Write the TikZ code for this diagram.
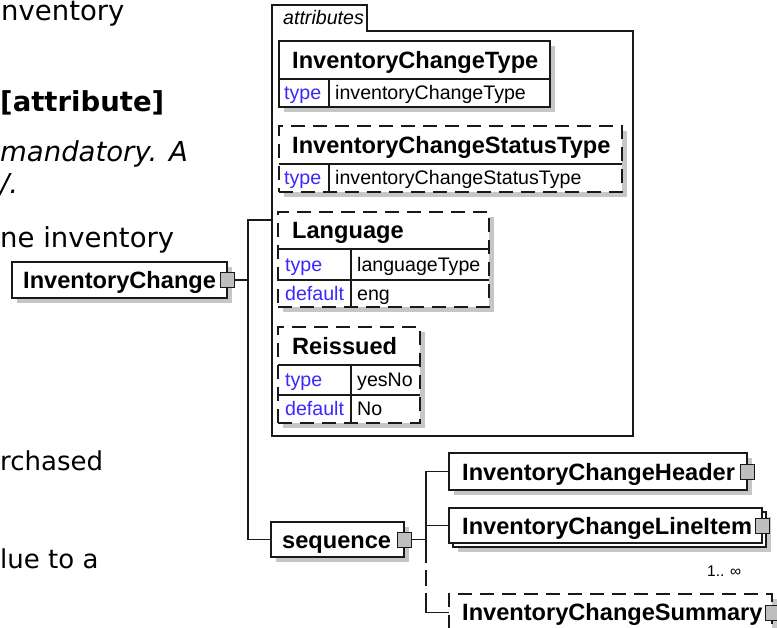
\documentclass[tikz,border=0pt]{standalone}
\usepackage{fontspec}
\setmainfont{DejaVu Sans}
\newfontfamily\xsdfont{Liberation Sans}
\usetikzlibrary{positioning,shadows}

\tikzset{
  elbox/.style={draw=boxline, fill=white, line width=1.2pt, inner sep=0pt, outer sep=0pt, anchor=north west},
  xsdbox/.style={elbox, drop shadow={shadow xshift=5pt, shadow yshift=-5pt, fill=shadowgray, opacity=1}},
  optbox/.style={xsdbox, dash pattern=on 14pt off 8pt},
  expander/.style={draw=boxline, fill=expgray, line width=1pt, minimum width=14pt, minimum height=15pt, inner sep=0pt, outer sep=0pt},
  elname/.style={font=\xsdfont\fontsize{23.6}{26}\bfseries, anchor=base west, inner sep=0pt},
  attkey/.style={font=\xsdfont\fontsize{19.6}{22}\selectfont, text=keyblue, anchor=base west, inner sep=0pt},
  attval/.style={attkey, text=black},
  doc/.style={font=\fontsize{27.5}{32}\selectfont, anchor=base west, inner sep=0pt},
  wire/.style={draw=boxline, line width=1.2pt},
}

\begin{document}
\begin{tikzpicture}[x=1pt, y=-1pt]
        \definecolor{boxline}{RGB}{25,25,25}
        \definecolor{shadowgray}{RGB}{198,198,198}
        \definecolor{expgray}{RGB}{190,190,190}
        \definecolor{keyblue}{RGB}{60,40,250}

        \clip (0,0) rectangle (777,628);

        % Documentation text (cut at the left edge)
        \node[doc] (docInv) at (1,21) {nventory};
        \node[doc, font=\fontsize{27.5}{32}\bfseries] (docAttr) at (0,112) {[attribute]};
        \node[doc, font=\fontsize{27.5}{32}\itshape] (docMand) at (0,162) {mandatory. A};
        \node[doc, font=\fontsize{27.5}{32}\itshape] (docEnd) at (0,194) {/.};
        \node[doc] (docNe) at (0,248) {ne inventory};
        \node[doc, font=\fontsize{26}{30}\selectfont] (docPurch) at (0,471) {rchased};
        \node[doc, font=\fontsize{26}{30}\selectfont] (docDue) at (0,568) {lue to a};

        % Root element
        \node[xsdbox, minimum width=215pt, minimum height=36pt] (ic) at (12,262) {};
        \node[elname] (icName) at (23,288.5) {InventoryChange};
        \node[expander] (icx) at (ic.east) {};

        % Attributes group with its tab
        \node[inner sep=0pt, outer sep=0pt, anchor=north west, minimum width=361pt, minimum height=405pt] (attrs) at (272,31) {};
        \draw[wire] (attrs.north east) -- ++(-266,0) -- ++(0,-26) -- ++(-95,0) -- (attrs.south west) -- (attrs.south east) -- cycle;
        \node[font=\xsdfont\fontsize{19.6}{22}\itshape, anchor=base west, inner sep=0pt] (attrsName) at (283,25) {attributes};

        % InventoryChangeType
        \node[xsdbox, minimum width=271pt, minimum height=66pt] (aType) at (279,41) {};
        \draw[wire] (279,79) -- (550,79) (329,79) -- (329,107);
        \node[elname] at (292,68.5) {InventoryChangeType};
        \node[attkey] at (284,100) {type};
        \node[attval] at (335,100) {inventoryChangeType};

        % InventoryChangeStatusType
        \node[optbox, minimum width=343pt, minimum height=66pt] (aStatus) at (279,126) {};
        \draw[wire] (279,164) -- (622,164) (329,164) -- (329,192);
        \node[elname] at (292,153.5) {InventoryChangeStatusType};
        \node[attkey] at (284,185) {type};
        \node[attval] at (335,185) {inventoryChangeStatusType};

        % Language
        \node[optbox, minimum width=211pt, minimum height=95pt] (aLang) at (278,212) {};
        \draw[wire] (278,249) -- (489,249) (278,280) -- (489,280) (351,249) -- (351,307);
        \node[elname] at (292,239) {Language};
        \node[attkey] at (285,271.5) {type};
        \node[attval] at (357,271.5) {languageType};
        \node[attkey] at (285,300.5) {default};
        \node[attval] at (357,300.5) {eng};

        % Reissued
        \node[optbox, minimum width=142pt, minimum height=96pt] (aReiss) at (278,327) {};
        \draw[wire] (278,365) -- (420,365) (278,395) -- (420,395) (351,365) -- (351,423);
        \node[elname] at (292,354.5) {Reissued};
        \node[attkey] at (285,387) {type};
        \node[attval] at (357,387) {yesNo};
        \node[attkey] at (285,416) {default};
        \node[attval] at (357,416) {No};

        % Sequence and child elements
        \node[xsdbox, minimum width=133pt, minimum height=35pt] (seq) at (271,522) {};
        \node[elname] at (282,548) {sequence};
        \node[expander] (seqx) at (seq.east) {};

        \node[xsdbox, minimum width=298pt, minimum height=37pt] (hdr) at (449,453) {};
        \node[elname] at (462,480) {InventoryChangeHeader};
        \node[expander] (hdrx) at (hdr.east) {};

        \node[xsdbox, minimum width=313pt, minimum height=35pt] (lineBack) at (453,512) {};
        \node[elbox, minimum width=313pt, minimum height=35pt] (line) at (449,508) {};
        \node[elname] at (462,534) {InventoryChangeLineItem};
        \node[expander] (linex) at (line.east) {};
        \node[font=\xsdfont\fontsize{15.5}{17}\selectfont, anchor=base west, inner sep=0pt] (lineOcc) at (707,576) {1.. ∞};

        \node[optbox, minimum width=323pt, minimum height=37pt] (sum) at (449,594) {};
        \node[elname] at (462,620) {InventoryChangeSummary};
        \node[expander] (sumx) at (sum.east) {};

        % Connectors
        \coordinate (trunk) at (248,220);
        \coordinate (optgap) at (426,563);
        \draw[wire] (icx.east) -- (icx.east -| trunk);
        \draw[wire] (attrs.west |- trunk) -- (trunk) |- (seq.west);
        \draw[wire] (seqx.east) -- (seqx.east -| optgap);
        \draw[wire] (hdr.west) -| (optgap);
        \draw[wire] (line.west) -- (line.west -| optgap);
        \draw[wire, dash pattern=on 16pt off 7pt, dash phase=16pt] (optgap) -- (optgap |- sum.west);
        \draw[wire] (optgap |- sum.west) ++(0,-6) -- (optgap |- sum.west) -- (sum.west);
\end{tikzpicture}
\end{document}
